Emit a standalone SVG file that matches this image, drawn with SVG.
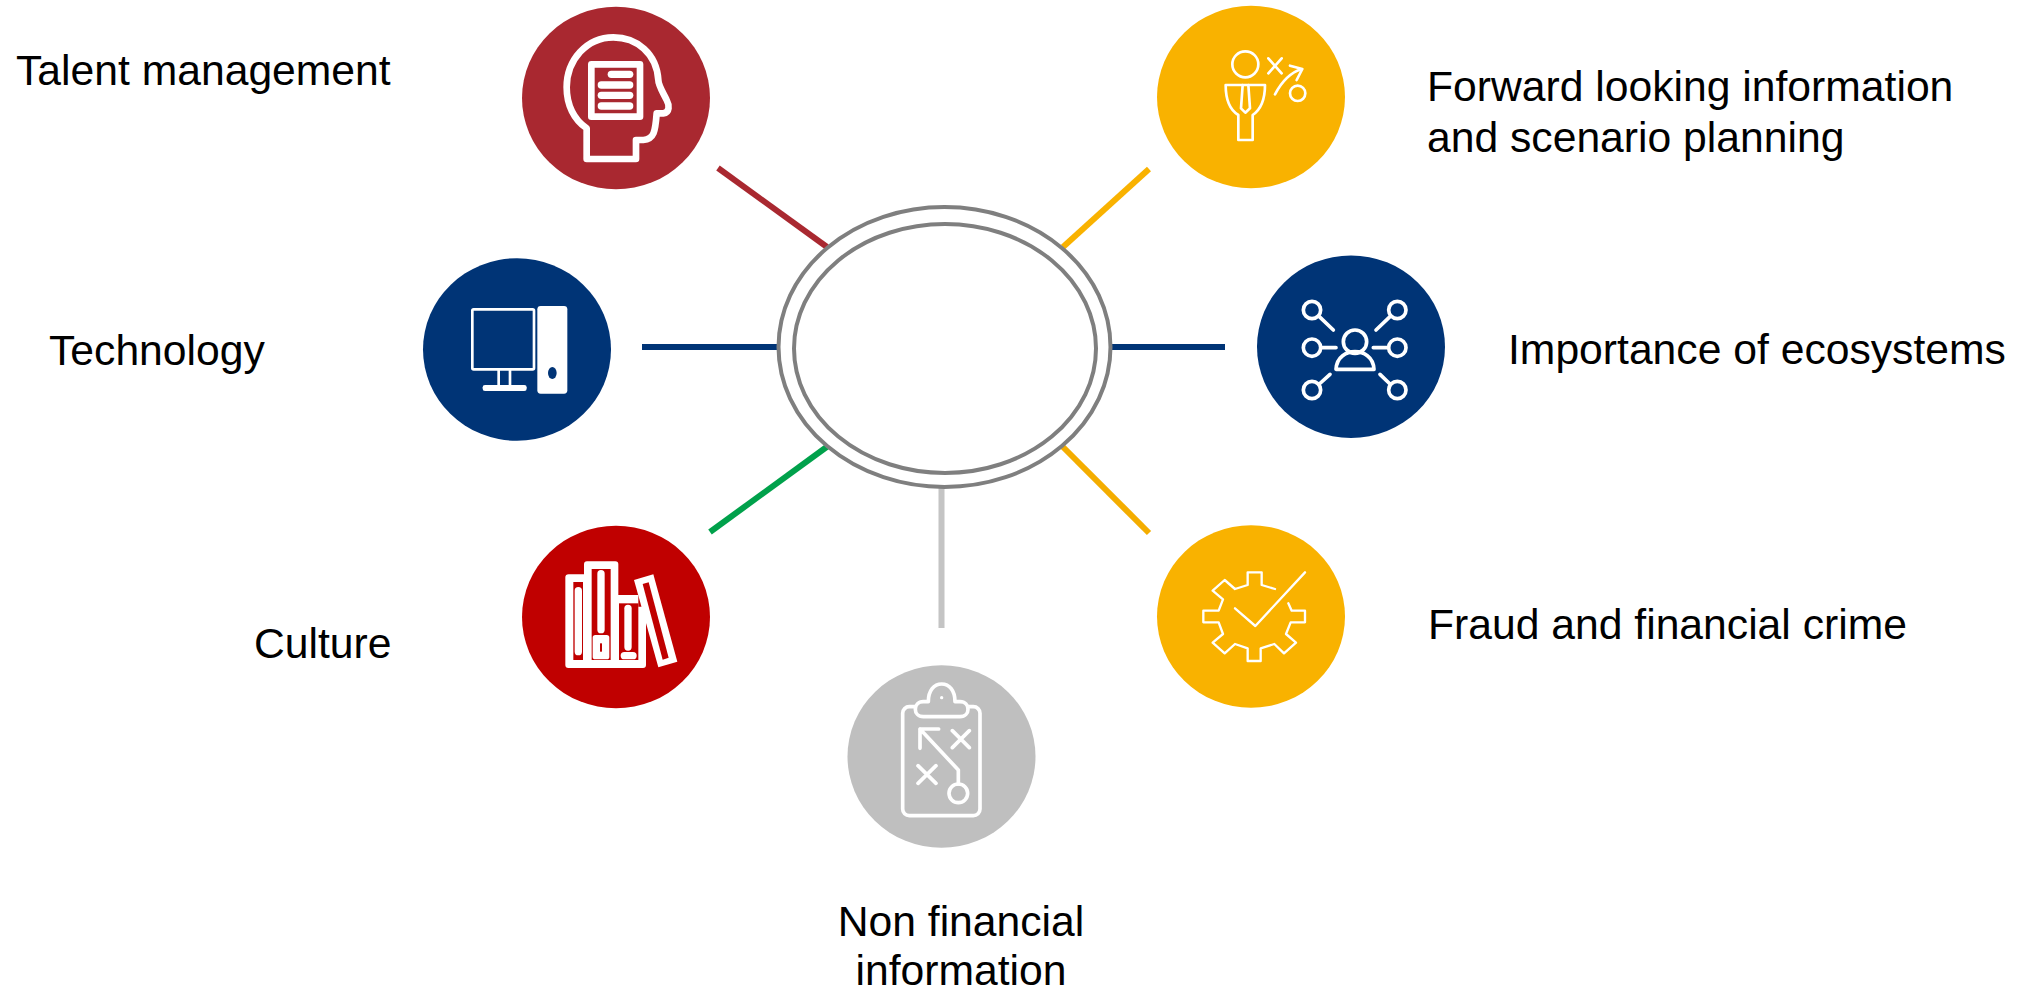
<svg xmlns="http://www.w3.org/2000/svg" width="2025" height="991" viewBox="0 0 2025 991">
<style>
text{font-family:"Liberation Sans",Arial,sans-serif;font-size:42.67px;fill:#000}
.c{stroke-width:6;fill:none}
.hub{fill:none;stroke:#7f7f7f;stroke-width:4}
.i{fill:none;stroke:#fff;stroke-linecap:round;stroke-linejoin:round}
.w{fill:#fff;stroke:none}
</style>
<rect width="2025" height="991" fill="#fff"/>
<g id="connectors">
<line class="c" x1="718" y1="168" x2="827" y2="247" stroke="#a92830"/>
<line class="c" x1="1149" y1="169" x2="1063" y2="247" stroke="#f9b200"/>
<line class="c" x1="642" y1="347" x2="778" y2="347" stroke="#003476"/>
<line class="c" x1="1112" y1="347" x2="1225" y2="347" stroke="#003476"/>
<line class="c" x1="710" y1="532" x2="828" y2="446" stroke="#00a14b"/>
<line class="c" x1="1149" y1="533" x2="1062" y2="446" stroke="#f4ad00"/>
<line class="c" x1="941.5" y1="488" x2="941.5" y2="628" stroke="#c4c4c4"/>
</g>
<g id="hub">
<ellipse class="hub" cx="944.5" cy="347" rx="166" ry="140"/>
<ellipse class="hub" cx="945" cy="348.5" rx="151" ry="124.5"/>
</g>
<g id="talent">
<ellipse cx="616" cy="98" rx="94" ry="91.3" fill="#a92830"/>
<g transform="translate(500 0) scale(.33333)">
<path class="i" stroke-width="20" d="M260,385V477H408V420H430C462,418 466,395 470,340H490C510,338 508,315 500,300C485,270 475,255 475,240C470,160 410,112 340,112C260,112 200,180 200,262C200,315 222,360 260,385Z"/>
<rect class="i" stroke-width="20" x="274" y="193" width="146" height="157"/>
<rect class="w" x="323" y="212" width="77" height="22" rx="11"/>
<rect class="w" x="293" y="244" width="107" height="22" rx="11"/>
<rect class="w" x="293" y="275" width="107" height="22" rx="11"/>
<rect class="w" x="293" y="307" width="107" height="22" rx="11"/>
</g>
<text x="16" y="85">Talent management</text>
</g>
<g id="forward">
<ellipse cx="1251" cy="97" rx="94" ry="91.3" fill="#f9b200"/>
<g transform="translate(1140 0) scale(.33333)">
<g class="i" stroke-width="8">
<circle cx="316" cy="193" r="39"/>
<path d="M385,175L425,220M425,175L385,220M405,283C425,245 450,218 485,207M450,197L487,207L470,240"/>
<circle cx="473" cy="280" r="23"/>
<path d="M257,255H375C375,300 360,330 338,345V420H295V345C270,330 257,300 257,255Z"/>
<path d="M308,255L303,325L316,338L330,325L325,255"/>
</g>
</g>
<text x="1427" y="101">Forward looking information</text>
<text x="1427" y="152">and scenario planning</text>
</g>
<g id="ecosystems">
<ellipse cx="1351" cy="346.7" rx="94" ry="91.3" fill="#003476"/>
<g transform="translate(1240 250) scale(.33333)">
<g class="i" stroke-width="11">
<circle cx="345" cy="275" r="35"/>
<path d="M288,358C290,320 320,305 345,305C370,305 400,320 402,358Z"/>
<circle cx="216" cy="180" r="26"/><circle cx="472" cy="180" r="26"/>
<circle cx="216" cy="293" r="26"/><circle cx="472" cy="293" r="26"/>
<circle cx="216" cy="420" r="26"/><circle cx="472" cy="420" r="26"/>
<path d="M238,200L280,240M450,200L408,240M245,293H288M400,293H445M238,402L270,373M450,402L420,373"/>
</g>
</g>
<text x="1508" y="364">Importance of ecosystems</text>
</g>
<g id="fraud">
<ellipse cx="1251" cy="616.5" rx="94" ry="91.3" fill="#f9b200"/>
<g transform="translate(1140 520) scale(.33333)">
<g class="i" stroke-width="7">
<path d="M405,207L365,195V157H323V195L285,207L254,180L218,212L249,238L236,272H190V307H236L249,342L218,368L254,400L285,372L323,385V423H362V385L403,372L432,400L468,368L438,342L452,307H495V272H455L445,250"/>
<path d="M285,265L346,318L495,157"/>
</g>
</g>
<text x="1428" y="639">Fraud and financial crime</text>
</g>
<g id="nonfinancial">
<ellipse cx="941.5" cy="756.5" rx="94" ry="91.3" fill="#bfbfbf"/>
<g transform="translate(840 660) scale(.33333)">
<g class="i" stroke-width="11">
<rect x="188" y="140" width="232" height="327" rx="20"/>
<path fill="#bfbfbf" d="M265,125C265,92 282,72 305,72C328,72 345,92 345,125H360C392,125 392,170 360,170H250C218,170 218,125 250,125Z"/>
<path d="M240,265V207H296M240,207L355,330V372"/>
<circle cx="355" cy="400" r="28"/>
<path d="M337,212L388,263M388,212L337,263M234,317L288,370M288,317L234,370"/>
</g>
<circle class="w" cx="305" cy="113" r="5"/>
</g>
<text x="961" y="936" text-anchor="middle">Non financial</text>
<text x="961" y="985" text-anchor="middle">information</text>
</g>
<g id="culture">
<ellipse cx="616" cy="617" rx="94" ry="91.3" fill="#c00000"/>
<g transform="translate(510 520) scale(.33333)">
<path class="w" d="M176,163H222V133Q222,124 231,124H316Q325,124 325,133V225H385V260H408V435Q408,444 399,444H175Q166,444 166,435V172Q166,163 176,163Z"/>
<g fill="#c00000">
<rect x="190" y="186" width="29" height="234"/>
<rect x="245" y="147" width="57" height="273"/>
<rect x="327" y="250" width="58" height="170"/>
</g>
<rect class="w" x="194" y="201" width="22" height="205" rx="11"/>
<rect class="w" x="262" y="150" width="22" height="190" rx="11"/>
<rect class="w" x="248" y="345" width="50" height="73" rx="8"/>
<rect x="270" y="370" width="6" height="25" fill="#c00000"/>
<rect class="w" x="343" y="254" width="22" height="138" rx="11"/>
<rect class="w" x="332" y="396" width="48" height="22" rx="11"/>
<path class="w" d="M372,180L430,163L502,425L445,442Z"/>
<path d="M398,192L416,187L476,413L458,419Z" fill="#c00000"/>
</g>
<text x="254" y="658">Culture</text>
</g>
<g id="technology">
<ellipse cx="517" cy="349.5" rx="94" ry="91.3" fill="#003476"/>
<g transform="translate(410 250) scale(.33333)">
<rect class="i" stroke-width="8" x="187" y="178" width="185" height="180" rx="4"/>
<path class="i" stroke-width="8" d="M266,358V408M300,358V408"/>
<rect class="w" x="218" y="405" width="132" height="18" rx="7"/>
<rect class="w" x="382" y="168" width="90" height="263" rx="10"/>
<ellipse cx="427" cy="369" rx="13" ry="18" fill="#003476"/>
</g>
<text x="49" y="365">Technology</text>
</g>
</svg>
